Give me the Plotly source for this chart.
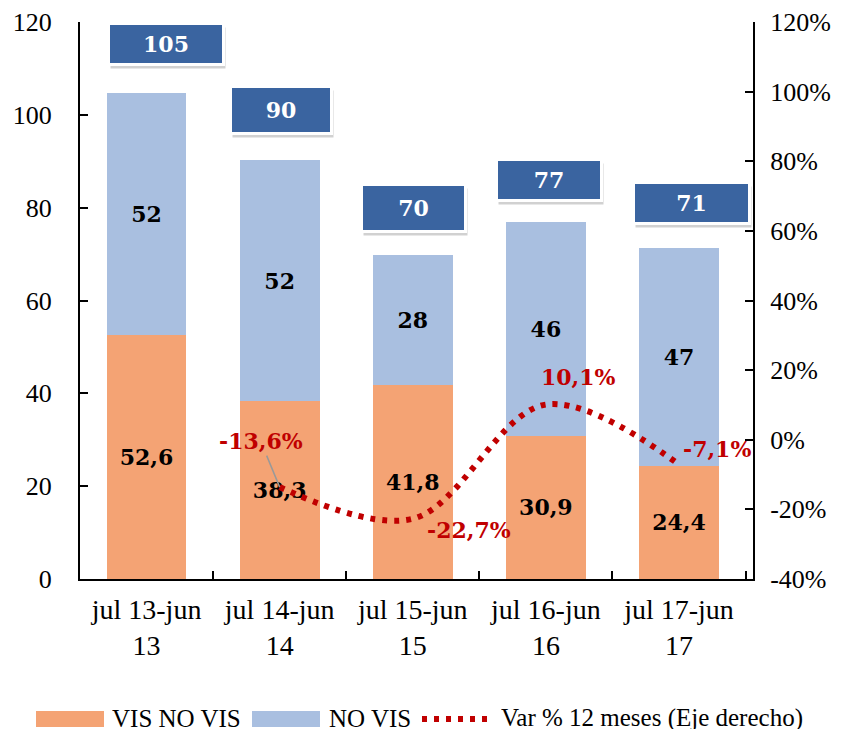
import plotly.graph_objects as go

categories = ["jul 13-jun<br>13", "jul 14-jun<br>14", "jul 15-jun<br>15",
              "jul 16-jun<br>16", "jul 17-jun<br>17"]
vis_no_vis = [52.6, 38.3, 41.8, 30.9, 24.4]
no_vis = [52, 52, 28, 46, 47]
totals = [105, 90, 70, 77, 71]
var_pct = [None, -13.6, -22.7, 10.1, -7.1]
right_ticks = [-40, -20, 0, 20, 40, 60, 80, 100, 120]
series_names = ["VIS NO VIS", "NO VIS", "Var % 12 meses (Eje derecho)"]

orange = "#F4A374"
light_blue = "#A9BFE0"
box_blue = "#3A64A0"
red = "#C00000"
serif = "Liberation Serif"
bold = "DejaVu Serif"

# the page puts the figure 8px in from the top-left corner
W, H = 840, 723
ML, MR, MT, MB = 72, 95, 14, 152
PW, PH = W - ML - MR, H - MT - MB


def es(v, dec=1):
    return f"{v:.{dec}f}".replace(".", ",")


def px(sx):
    return (sx - 8 - ML) / PW


def py(sy):
    return (H - MB - (sy - 8)) / PH


fig = go.Figure()
fig.add_trace(go.Bar(
    x=categories, y=vis_no_vis, name=series_names[0], showlegend=False,
    marker=dict(color=orange, line=dict(width=0)),
    text=[es(v) for v in vis_no_vis], textposition="inside",
    insidetextanchor="middle", textangle=0,
    textfont=dict(family=bold, size=22, color="black", weight="bold"),
))
fig.add_trace(go.Bar(
    x=categories, y=no_vis, name=series_names[1], showlegend=False,
    marker=dict(color=light_blue, line=dict(width=0)),
    text=[str(v) for v in no_vis], textposition="inside",
    insidetextanchor="middle", textangle=0,
    textfont=dict(family=bold, size=22, color="black", weight="bold"),
))
fig.add_trace(go.Scatter(
    x=categories, y=var_pct, name=series_names[2], showlegend=False,
    yaxis="y2", mode="lines",
    line=dict(color=red, width=6, dash="5px,7px", shape="spline", smoothing=1),
))

# total boxes above bars
box_dy = [10.3, 11.0, 9.9, 9.0, 10.0]
box_dx = [19, 1, 1, 3, 12]
box_w = [112, 98, 101, 102, 113]
box_h = [38, 44, 44, 38, 38]
annotations = []
for i, t in enumerate(totals):
    common = dict(x=categories[i], y=t + box_dy[i], xref="x", yref="y",
                  showarrow=False, width=box_w[i], height=box_h[i],
                  borderpad=0, valign="middle")
    annotations.append(dict(common, text="", bgcolor="rgba(0,0,0,0.18)",
                            borderwidth=3, bordercolor="rgba(0,0,0,0)",
                            xshift=box_dx[i] + 2, yshift=-4))
    annotations.append(dict(common, text=f"<b>{t}</b>", bgcolor=box_blue,
                            borderwidth=3, bordercolor="white",
                            xshift=box_dx[i],
                            font=dict(family=bold, size=22, color="white")))

# variation labels
lab_dx = [0, -19, 56, 33, 38]
lab_dy = [0, 46, -11, 28, 15]
for i, v in enumerate(var_pct):
    if v is None:
        continue
    txt = f"<b>{es(v)}%</b>"
    if i == 1:
        annotations.append(dict(x=categories[i], y=v, xref="x", yref="y2",
                                text=txt, showarrow=True, arrowhead=0,
                                arrowwidth=1.5, arrowcolor="#999999",
                                ax=lab_dx[i], ay=-lab_dy[i], standoff=0,
                                font=dict(family=bold, size=22, color=red)))
    else:
        annotations.append(dict(x=categories[i], y=v, xref="x", yref="y2",
                                text=txt, showarrow=False,
                                xshift=lab_dx[i], yshift=lab_dy[i],
                                font=dict(family=bold, size=22, color=red)))

# legend drawn by hand so the swatches are wide like the original
leg_y = 718
shapes = [
    dict(type="rect", xref="paper", yref="paper", x0=px(36), x1=px(104),
         y0=py(727), y1=py(711), fillcolor=orange, line=dict(width=0)),
    dict(type="rect", xref="paper", yref="paper", x0=px(252), x1=px(320),
         y0=py(727), y1=py(711), fillcolor=light_blue, line=dict(width=0)),
    dict(type="line", xref="paper", yref="paper", x0=px(422), x1=px(494),
         y0=py(leg_y + 1), y1=py(leg_y + 1),
         line=dict(color=red, width=6, dash="5px,7px")),
]
for name, sx in zip(series_names, [111, 328, 500]):
    annotations.append(dict(x=px(sx), y=py(leg_y), xref="paper", yref="paper",
                            text=name, showarrow=False, xanchor="left",
                            yanchor="middle", height=22, borderpad=0,
                            font=dict(family=serif, size=25, color="black")))

fig.update_layout(
    width=W, height=H,
    margin=dict(l=ML, r=MR, t=MT, b=MB, autoexpand=False),
    barmode="stack", bargap=0.4,
    plot_bgcolor="white", paper_bgcolor="white",
    font=dict(family=serif, size=26, color="black"),
    showlegend=False,
    xaxis=dict(showline=True, linecolor="black", linewidth=2,
               ticks="inside", tickson="boundaries", ticklen=8,
               tickcolor="black", tickwidth=1.5, automargin=False,
               tickfont=dict(size=28), ticklabelstandoff=4),
    yaxis=dict(range=[0, 120], dtick=20, showgrid=False, zeroline=False,
               showline=True, linecolor="black", linewidth=2,
               ticks="inside", ticklen=8, tickcolor="black", tickwidth=1.5,
               ticklabelstandoff=21, automargin=False),
    yaxis2=dict(range=[-40, 120], tickvals=right_ticks,
                ticktext=[f"{v}%" for v in right_ticks],
                overlaying="y", side="right",
                showgrid=False, zeroline=False, showline=True,
                linecolor="black", linewidth=2, ticks="inside", ticklen=8,
                tickcolor="black", tickwidth=1.5,
                ticklabelstandoff=10, automargin=False),
    annotations=annotations,
    shapes=shapes,
    uniformtext=dict(minsize=22, mode="show"),
)

fig.write_html("out.html")
